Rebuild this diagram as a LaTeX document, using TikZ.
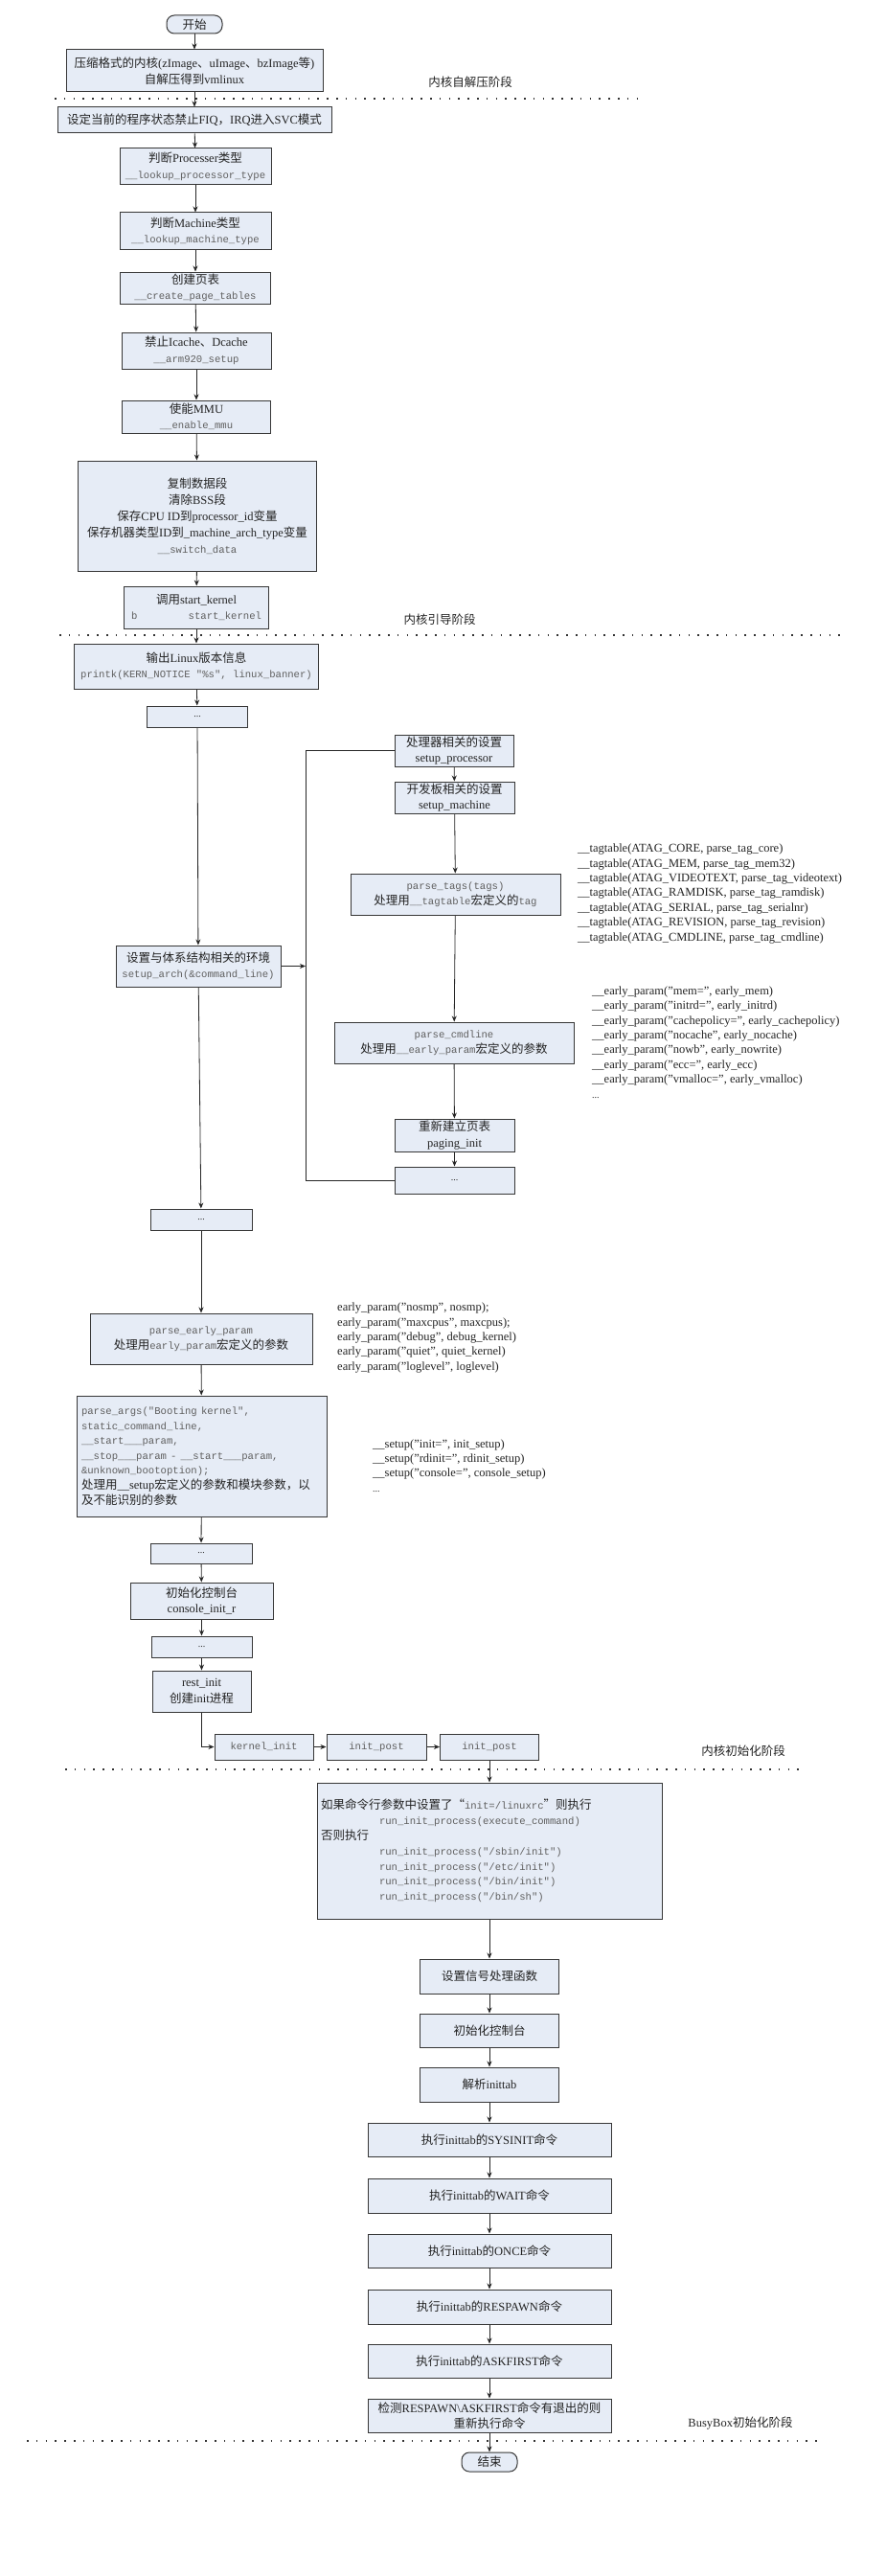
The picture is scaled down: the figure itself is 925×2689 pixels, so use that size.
\documentclass[tikz,border=0pt]{standalone}
\usepackage{fontspec}
\setmainfont{Liberation Serif}
\newfontfamily\cjk{Noto Sans CJK SC}
\newfontfamily\codefont{Liberation Mono}
\usetikzlibrary{arrows.meta}
\pgfdeclarelayer{bglayer}
\pgfdeclarelayer{linelayer}
\pgfsetlayers{bglayer,linelayer,main}
\definecolor{boxfill}{RGB}{230,236,246}
\definecolor{boxline}{RGB}{55,55,55}
\definecolor{txt}{RGB}{35,35,35}
\definecolor{codecol}{RGB}{95,95,95}
\newcommand\C[1]{{\cjk #1}}
\newcommand\T[1]{{\codefont\fontsize{10.6}{15}\selectfont\color{codecol}#1}}
\newcommand\dotsx{{\fontsize{10}{10}\selectfont ...}}
\begin{document}
\begin{tikzpicture}[x=1pt,y=-1pt,
  box/.style={draw=boxline,fill=boxfill,line width=1pt,align=center,inner sep=1pt,text=txt,font=\fontsize{12.5}{16.5}\selectfont},
  wh/.style 2 args={minimum width=#1pt,minimum height=#2pt},
  term/.style={box,rounded corners=8pt},
  arr/.style={-{Stealth[length=6pt,width=5pt]},line width=0.8pt,draw=black!85},
  conn/.style={line width=0.8pt,draw=black!85},
  sepline/.style={line width=1.8pt,dash pattern=on 1.6pt off 8.2pt,draw=black!80},
  stage/.style={font=\fontsize{12.5}{15}\selectfont,text=txt,inner sep=0pt},
  note/.style={align=left,anchor=west,inner sep=0pt,text=txt,font=\fontsize{12.5}{15.4}\selectfont}]
\useasboundingbox (0,0) rectangle (925,2689);
\begin{pgfonlayer}{bglayer}
\fill[white] (0,0) rectangle (925,2689);
\end{pgfonlayer}

% separators
\begin{pgfonlayer}{linelayer}
\draw[sepline] (57,103) -- (665,103);
\draw[sepline] (62,663) -- (882,663);
\draw[sepline] (68,1847) -- (838,1847);
\draw[sepline] (28,2548) -- (857,2548);
\end{pgfonlayer}

% stage labels
\node[stage] (s1) at (491,86) {\C{内核自解压阶段}};
\node[stage] (s2) at (459,647) {\C{内核引导阶段}};
\node[stage] (s3) at (776,1828) {\C{内核初始化阶段}};
\node[stage] (s4) at (773,2530) {BusyBox\C{初始化阶段}};

% main column
\node[term,wh={58}{19}] (start) at (203,25.5) {\C{开始}};
\node[box,wh={268}{44}] (n1) at (203,74) {\C{压缩格式的内核}(zImage\C{、}uImage\C{、}bzImage\C{等})\\\C{自解压得到}vmlinux};
\node[box,wh={286}{27}] (n2) at (203,125.5) {\C{设定当前的程序状态禁止}FIQ\C{，}IRQ\C{进入}SVC\C{模式}};
\node[box,wh={158}{38}] (n3) at (204,174) {\C{判断}Processer\C{类型}\\\T{\_\_lookup\_processor\_type}};
\node[box,wh={158}{39}] (n4) at (204,241.5) {\C{判断}Machine\C{类型}\\\T{\_\_lookup\_machine\_type}};
\node[box,wh={157}{33}] (n5) at (204,300.5) {\C{创建页表}\\\T{\_\_create\_page\_tables}};
\node[box,wh={156}{38}] (n6) at (205,366) {\C{禁止}Icache\C{、}Dcache\\\T{\_\_arm920\_setup}};
\node[box,wh={155}{34}] (n7) at (205,435) {\C{使能}MMU\\\T{\_\_enable\_mmu}};
\node[box,wh={249}{115},font=\fontsize{12.5}{17}\selectfont] (n8) at (206,538.5) {\C{复制数据段}\\\C{清除}BSS\C{段}\\\C{保存}CPU ID\C{到}processor\_id\C{变量}\\\C{保存机器类型}ID\C{到}\_machine\_arch\_type\C{变量}\\\T{\_\_switch\_data}};
\node[box,wh={151}{44}] (n9) at (205,634) {\C{调用}start\_kernel\\\makebox[136pt]{\T{b}\hfill\T{start\_kernel}}};
\node[box,wh={255}{47}] (n10) at (205,695.5) {\C{输出}Linux\C{版本信息}\\\T{printk(KERN\_NOTICE "\%s", linux\_banner)}};
\node[box,wh={105}{22}] (n11) at (206,748) {\dotsx};
\node[box,wh={172}{43}] (arch) at (207,1008.5) {\C{设置与体系结构相关的环境}\\\T{setup\_arch(\&command\_line)}};
\node[box,wh={106}{22}] (n12) at (210,1273) {\dotsx};
\node[box,wh={232}{53}] (pep) at (210,1397.5) {\T{parse\_early\_param}\\\C{处理用}\T{early\_param}\C{宏定义的参数}};
\node[box,wh={261}{126},align=left,text width=251pt,font=\fontsize{12.5}{15.6}\selectfont] (pargs) at (210.5,1520) {\T{parse\_args("Booting kernel",}\\\T{static\_command\_line,}\\\T{\_\_start\_\_\_param,}\\\T{\_\_stop\_\_\_param - \_\_start\_\_\_param,}\\\T{\&unknown\_bootoption);}\\\C{处理用}\_\_setup\C{宏定义的参数和模块参数，以}\\\C{及不能识别的参数}};
\node[box,wh={106}{21}] (n13) at (210,1621.5) {\dotsx};
\node[box,wh={149}{38}] (cons) at (210.5,1671) {\C{初始化控制台}\\console\_init\_r};
\node[box,wh={105}{22}] (n14) at (210.5,1719) {\dotsx};
\node[box,wh={103}{43}] (rest) at (210.5,1765.5) {rest\_init\\\C{创建}init\C{进程}};
\node[box,wh={103}{27}] (kinit) at (275.5,1823.5) {\T{kernel\_init}};
\node[box,wh={104}{27}] (ipost1) at (393,1823.5) {\T{init\_post}};
\node[box,wh={103}{27}] (ipost2) at (511,1823.5) {\T{init\_post}};
\node[box,wh={360}{142},align=left,text width=352pt,font=\fontsize{12.5}{15.8}\selectfont] (big) at (511,1932) {\C{如果命令行参数中设置了“}\T{init=/linuxrc}\C{”则执行}\\\hspace*{61pt}\T{run\_init\_process(execute\_command)}\\\C{否则执行}\\\hspace*{61pt}\T{run\_init\_process("/sbin/init")}\\\hspace*{61pt}\T{run\_init\_process("/etc/init")}\\\hspace*{61pt}\T{run\_init\_process("/bin/init")}\\\hspace*{61pt}\T{run\_init\_process("/bin/sh")}};
\node[box,wh={145}{36}] (b1) at (511,2063) {\C{设置信号处理函数}};
\node[box,wh={145}{35}] (b2) at (511,2119.5) {\C{初始化控制台}};
\node[box,wh={145}{36}] (b3) at (511,2176) {\C{解析}inittab};
\node[box,wh={254}{35}] (b4) at (511,2233.5) {\C{执行}inittab\C{的}SYSINIT\C{命令}};
\node[box,wh={254}{36}] (b5) at (511,2292) {\C{执行}inittab\C{的}WAIT\C{命令}};
\node[box,wh={254}{35}] (b6) at (511,2349.5) {\C{执行}inittab\C{的}ONCE\C{命令}};
\node[box,wh={254}{36}] (b7) at (511,2408) {\C{执行}inittab\C{的}RESPAWN\C{命令}};
\node[box,wh={254}{35}] (b8) at (511,2464.5) {\C{执行}inittab\C{的}ASKFIRST\C{命令}};
\node[box,wh={254}{35}] (b9) at (511,2521.5) {\C{检测}RESPAWN\textbackslash ASKFIRST\C{命令有退出的则}\\\C{重新执行命令}};
\node[term,wh={58}{20}] (end) at (511,2570) {\C{结束}};

% right column
\node[box,wh={124}{33}] (proc) at (474,783.5) {\C{处理器相关的设置}\\setup\_processor};
\node[box,wh={125}{33}] (mach) at (474.5,832.5) {\C{开发板相关的设置}\\setup\_machine};
\node[box,wh={219}{43}] (ptags) at (475.5,933.5) {\T{parse\_tags(tags)}\\\C{处理用}\T{\_\_tagtable}\C{宏定义的}\T{tag}};
\node[box,wh={250}{43}] (cmdl) at (474,1088.5) {\T{parse\_cmdline}\\\C{处理用}\T{\_\_early\_param}\C{宏定义的参数}};
\node[box,wh={125}{34}] (paging) at (474.5,1185) {\C{重新建立页表}\\paging\_init};
\node[box,wh={125}{28}] (dotsR) at (474.5,1232) {\dotsx};

% side notes
\node[note] (tagnote) at (603,933) {\_\_tagtable(ATAG\_CORE, parse\_tag\_core)\\\_\_tagtable(ATAG\_MEM, parse\_tag\_mem32)\\\_\_tagtable(ATAG\_VIDEOTEXT, parse\_tag\_videotext)\\\_\_tagtable(ATAG\_RAMDISK, parse\_tag\_ramdisk)\\\_\_tagtable(ATAG\_SERIAL, parse\_tag\_serialnr)\\\_\_tagtable(ATAG\_REVISION, parse\_tag\_revision)\\\_\_tagtable(ATAG\_CMDLINE, parse\_tag\_cmdline)};
\node[note] (eparnote) at (618,1088) {\_\_early\_param("mem=", early\_mem)\\\_\_early\_param("initrd=", early\_initrd)\\\_\_early\_param("cachepolicy=", early\_cachepolicy)\\\_\_early\_param("nocache", early\_nocache)\\\_\_early\_param("nowb", early\_nowrite)\\\_\_early\_param("ecc=", early\_ecc)\\\_\_early\_param("vmalloc=", early\_vmalloc)\\\dotsx};
\node[note] (earlynote) at (352,1396.5) {early\_param("nosmp", nosmp);\\early\_param("maxcpus", maxcpus);\\early\_param("debug", debug\_kernel)\\early\_param("quiet", quiet\_kernel)\\early\_param("loglevel", loglevel)};
\node[note] (setupnote) at (389,1530) {\_\_setup("init=", init\_setup)\\\_\_setup("rdinit=", rdinit\_setup)\\\_\_setup("console=", console\_setup)\\\dotsx};

\begin{pgfonlayer}{linelayer}
% connectors main column
\draw[arr] (start) -- (n1);
\draw[arr] (n1) -- (n2);
\draw[arr] (n2) -- (n3);
\draw[arr] (n3) -- (n4);
\draw[arr] (n4) -- (n5);
\draw[arr] (n5) -- (n6);
\draw[arr] (n6) -- (n7);
\draw[arr] (n7) -- (n8);
\draw[arr] (n8) -- (n9);
\draw[arr] (n9) -- (n10);
\draw[arr] (n10) -- (n11);
\draw[arr] (n11) -- (arch);
\draw[arr] (arch) -- (n12);
\draw[arr] (n12) -- (pep);
\draw[arr] (pep) -- (pargs);
\draw[arr] (pargs) -- (n13);
\draw[arr] (n13) -- (cons);
\draw[arr] (cons) -- (n14);
\draw[arr] (n14) -- (rest);
\draw[arr] (rest.south) |- (kinit.west);
\draw[arr] (kinit) -- (ipost1);
\draw[arr] (ipost1) -- (ipost2);
\draw[arr] (ipost2.south) -- (big.north);
\draw[arr] (big.south) -- (b1.north);
\draw[arr] (b1) -- (b2);
\draw[arr] (b2) -- (b3);
\draw[arr] (b3) -- (b4);
\draw[arr] (b4) -- (b5);
\draw[arr] (b5) -- (b6);
\draw[arr] (b6) -- (b7);
\draw[arr] (b7) -- (b8);
\draw[arr] (b8) -- (b9);
\draw[arr] (b9) -- (end);

% right column
\draw[arr] (proc) -- (mach);
\draw[arr] (mach) -- (ptags);
\draw[arr] (ptags) -- (cmdl);
\draw[arr] (cmdl) -- (paging);
\draw[arr] (paging) -- (dotsR);

% loop
\coordinate (lpA) at (319,783.5);
\coordinate (lpB) at (319,1232);
\draw[conn] (proc.west) -- (lpA) -- (lpB) -- (dotsR.west);
\draw[arr] (arch.east) -- (arch.east -| lpA);
\end{pgfonlayer}
\end{tikzpicture}
\end{document}
